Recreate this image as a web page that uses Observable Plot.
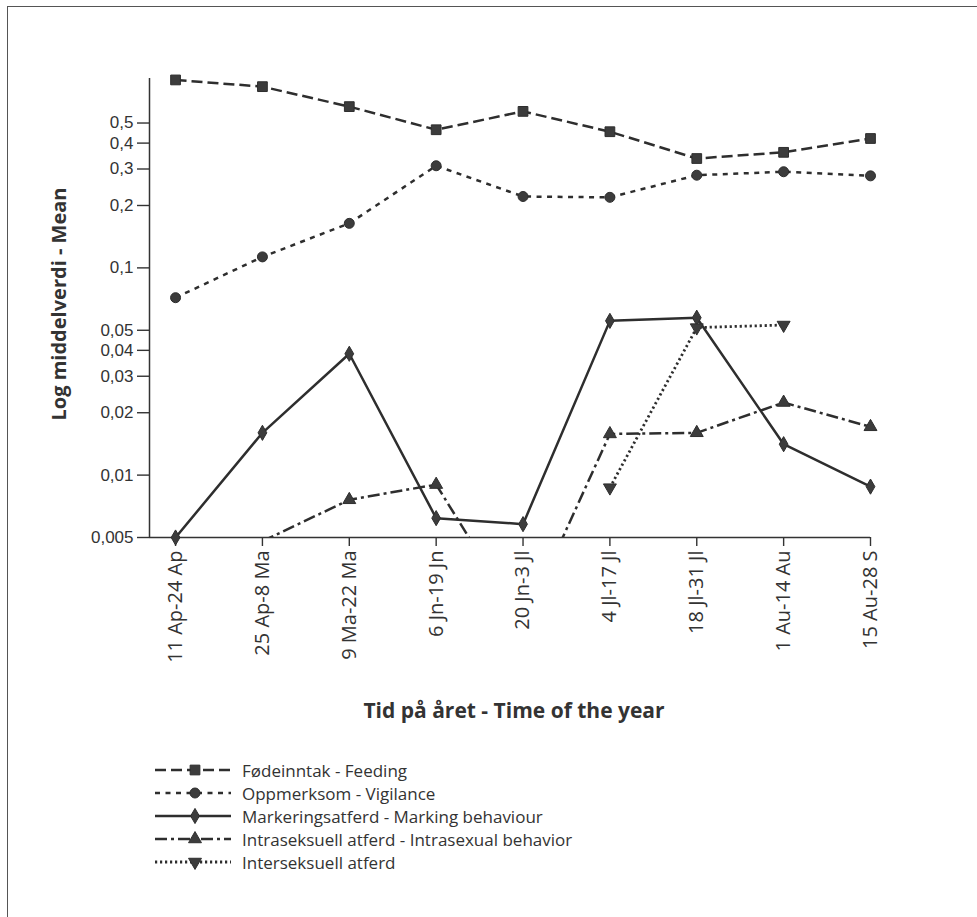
<!DOCTYPE html>
<html>
<head>
<meta charset="utf-8">
<script src="https://cdn.jsdelivr.net/npm/d3@7"></script>
<script src="https://cdn.jsdelivr.net/npm/@observablehq/plot@0.6"></script>
<style>
  html, body { margin: 0; padding: 0; background: #fff; }
  body { width: 977px; height: 917px; position: relative; overflow: hidden; font-family: "Open Sans", sans-serif; color: #333; }
  #border { position: absolute; left: 7px; top: 6px; width: 975px; height: 915px; border-left: 1.5px solid #555; border-top: 1.5px solid #555; }
  #chart { position: absolute; left: 0; top: 0; }
  #legend { position: absolute; left: 155px; top: 758.5px; }
  .row { display: flex; align-items: center; height: 23px; }
  .row svg { display: block; flex: none; }
  .row span { display: block; font-size: 17px; margin-left: 11px; color: #333; white-space: nowrap; line-height: 23px; }
</style>
</head>
<body>
<div id="border"></div>
<div id="chart"></div>
<div id="legend"></div>
<script>
// ---- data ----
const periods = ["11 Ap-24 Ap", "25 Ap-8 Ma", "9 Ma-22 Ma", "6 Jn-19 Jn", "20 Jn-3 Jl", "4 Jl-17 Jl", "18 Jl-31 Jl", "1 Au-14 Au", "15 Au-28 S"];
const feeding     = [0.807, 0.749, 0.600, 0.464, 0.569, 0.454, 0.337, 0.361, 0.421];
const vigilance   = [0.0718, 0.113, 0.164, 0.311, 0.221, 0.219, 0.280, 0.291, 0.278];
const marking     = [0.0050, 0.0160, 0.0385, 0.0062, 0.0058, 0.0555, 0.0575, 0.0141, 0.0088];
const intrasexual = [null, 0.0048, 0.0076, 0.0090, 0.0019, 0.0158, 0.0160, 0.0224, 0.0171];
const intersexual = [null, null, null, null, null, 0.0087, 0.0515, 0.0530, null];
const seriesNames = ["Fødeinntak - Feeding", "Oppmerksom - Vigilance", "Markeringsatferd - Marking behaviour", "Intraseksuell atferd - Intrasexual behavior", "Interseksuell atferd"];
const yTicks = [0.005, 0.01, 0.02, 0.03, 0.04, 0.05, 0.1, 0.2, 0.3, 0.4, 0.5];
const xTitle = "Tid på året - Time of the year";
const yTitle = "Log middelverdi - Mean";

// ---- styles ----
const INK = "#2e2e2e";
const styles = [
  {dash: "11,5", symbol: "square", r: 5.5, rotate: 0, width: 2.5},
  {dash: "5,5.5", symbol: "circle", r: 5, rotate: 0, width: 2.5},
  {dash: null, symbol: "diamond", r: 4.6, rotate: 0, width: 2.5},
  {dash: "12,4,3,4", symbol: "triangle", r: 4.8, rotate: 0, width: 2.5},
  {dash: "2.2,2.8", symbol: "triangle", r: 4.8, rotate: 180, width: 2.8}
];
const valuesList = [feeding, vigilance, marking, intrasexual, intersexual];
const series = seriesNames.map((name, k) => ({name, values: valuesList[k], ...styles[k]}));
const fmt = v => String(v).replace(".", ",");
const yMin = 0.005, yMax = 0.82;

const marks = [];
series.forEach(s => {
  const data = s.values.map((v, i) => ({i, v}));
  marks.push(Plot.line(data, {x: "i", y: "v", stroke: INK, strokeWidth: s.width, strokeDasharray: s.dash, strokeLinecap: "butt", clip: true}));
});
series.forEach(s => {
  const data = s.values.map((v, i) => ({i, v})).filter(d => d.v != null && d.v >= yMin);
  marks.push(Plot.dot(data, {x: "i", y: "v", symbol: s.symbol, r: s.r, fill: "#3c3c3c", stroke: INK, strokeWidth: 1, rotate: s.rotate}));
});

const svg = Plot.plot({
  width: 977,
  height: 740,
  marginLeft: 149,
  marginRight: 107,
  marginTop: 78,
  marginBottom: 203,
  style: {fontFamily: "'Open Sans', sans-serif", color: "#333", background: "transparent"},
  x: {type: "linear", domain: [-0.3, 8]},
  y: {type: "log", domain: [yMin, yMax]},
  marks: [
    Plot.axisY(yTicks, {tickSize: 12, tickPadding: 4, tickFormat: fmt, fontSize: 17, fontFamily: "'Liberation Sans', sans-serif", label: null, strokeWidth: 1.4, stroke: "#333"}),
    Plot.axisX(d3.range(periods.length), {tickSize: 9, tickPadding: 4, tickRotate: -90, tickFormat: i => periods[i], fontSize: 20, label: null, strokeWidth: 1.4, stroke: "#333"}),
    Plot.ruleY([yMin], {stroke: "#333", strokeWidth: 1.5}),
    Plot.ruleX([-0.3], {stroke: "#333", strokeWidth: 1.5}),
    ...marks
  ]
});

const s = d3.select(svg);
s.append("text")
  .attr("transform", "translate(58,304) rotate(-90)")
  .attr("text-anchor", "middle")
  .attr("dominant-baseline", "central")
  .attr("font-size", 20).attr("font-weight", "bold").attr("fill", "#333")
  .text(yTitle);
s.append("text")
  .attr("x", 514).attr("y", 718)
  .attr("text-anchor", "middle")
  .attr("font-size", 21).attr("font-weight", "bold").attr("fill", "#333")
  .text(xTitle);
document.getElementById("chart").appendChild(svg);

// ---- legend ----
const legend = d3.select("#legend");
const symMap = {square: d3.symbolSquare, circle: d3.symbolCircle, diamond: d3.symbolDiamond, triangle: d3.symbolTriangle};
series.forEach(ser => {
  const row = legend.append("div").attr("class", "row");
  const sw = row.append("svg").attr("width", 76).attr("height", 22);
  sw.append("line").attr("x1", 0).attr("x2", 76).attr("y1", 11).attr("y2", 11)
    .attr("stroke", INK).attr("stroke-width", ser.width)
    .attr("stroke-dasharray", ser.dash);
  sw.append("path")
    .attr("d", d3.symbol(symMap[ser.symbol], Math.PI * ser.r * ser.r)())
    .attr("transform", `translate(40,11) rotate(${ser.rotate})`)
    .attr("fill", "#3c3c3c").attr("stroke", INK);
  row.append("span").text(ser.name);
});
</script>
</body>
</html>
